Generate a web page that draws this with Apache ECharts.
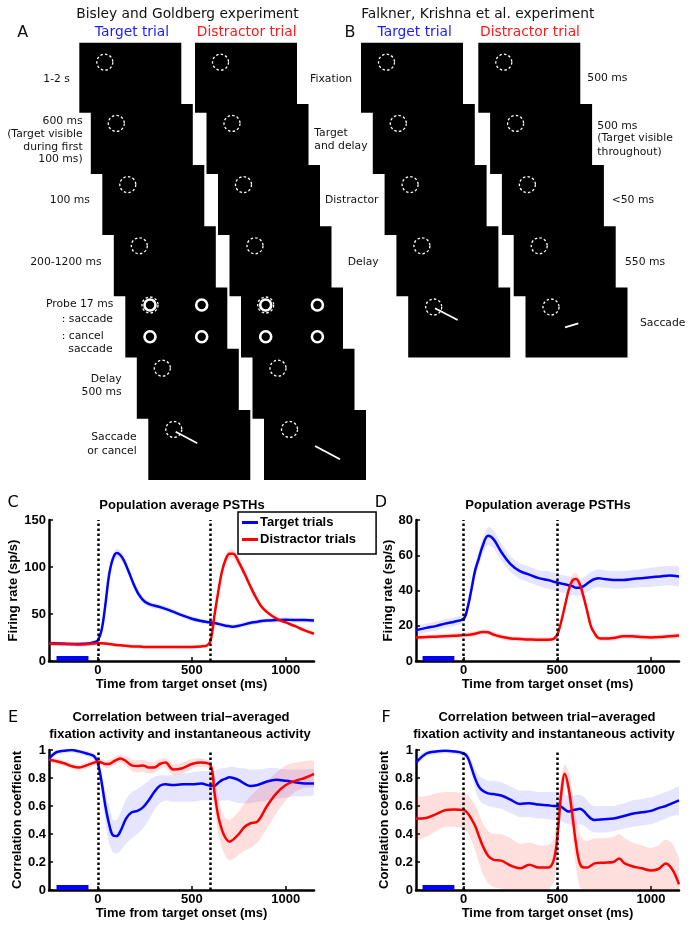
<!DOCTYPE html>
<html>
<head>
<meta charset="utf-8">
<title>Fixation activity figure</title>
<script src="https://cdn.jsdelivr.net/npm/echarts@6/dist/echarts.min.js"></script>
<style>
  html, body { margin: 0; padding: 0; background: #fff; }
  #fig { width: 691px; height: 929px; }
</style>
</head>
<body>
<div id="fig"></div>
<script>
// ---------- data ----------
// fixation window (blue bar) and task events (dotted lines), ms
const fixWin = [-220, -50];
const eventsBG = [0, 600];   // Bisley & Goldberg: target, distractor
const eventsFK = [0, 500];   // Falkner, Krishna et al.

// C: population PSTHs, Bisley & Goldberg (sp/s)
const tC = [-260,-200,-150,-100,-50, -20,0,20,40,60, 80,100,130,160,190, 220,250,280,320,360,
            400,450,500,550,580, 600,620,640,660,680, 700,720,750,780,810, 840,870,900,950,1000, 1050,1100,1150];
const blueC   = [18.5,18.5,18,18,18.5, 20,22,33,60,92, 109,115,110,97,82, 70,63,60,58,55.5,
                 52.5,48.5,45,42.5,41.5, 41,40.5,39.5,38.5,37.5, 37,36.5,37.5,39,40.5, 41.5,42.5,43,43.5,44, 43.5,43.5,43];
const blueCLo = [16.5,16.5,16,16,16.5, 18,20,30,56,87, 104,110,105,92,78, 66,59.5,57,55,52.5,
                 50,46,42.5,40,39, 38.5,38,37,36,35, 34.5,34,35,36.5,38, 39,40,40.5,41,41.5, 41,41,40.5];
const blueCHi = [20.5,20.5,20,20,20.5, 22,24,36,64,97, 114,120,115,102,86, 74,66.5,63,61,58.5,
                 55,51,47.5,45,44, 43.5,43,42,41,40, 39.5,39,40,41.5,43, 44,45,45.5,46,46.5, 46,46,45.5];
const redC    = [18.5,18,18,17.5,18, 18.5,19,19,18.5,18, 17.5,17,16.5,16,15.5, 15.5,15,15,15,15,
                 15,15,15,15.5,16.5, 22,48,73,95,108, 114,114,105,93,80, 68,58,52,45,41, 37,32.5,29];
const redCLo  = [16.5,16,16,15.5,16, 16.5,17,17,16.5,16, 15.5,15,14.5,14,13.5, 13.5,13,13,13,13,
                 13,13,13,13.5,14.5, 19,44,69,90,103, 109,109,100,89,76, 65,55.5,49.5,43,39, 35,30.5,27];
const redCHi  = [20.5,20,20,19.5,20, 20.5,21,21,20.5,20, 19.5,19,18.5,18,17.5, 17.5,17,17,17,17,
                 17,17,17,17.5,18.5, 25,52,77,100,113, 119,119,110,97,84, 71,60.5,54.5,47,43, 39,34.5,31];

// D: population PSTHs, Falkner, Krishna et al. (sp/s)
const tD = [-255,-200,-150,-100,-50, 0,20,40,60,80, 100,130,160,200,250, 300,350,400,450,480,
            500,520,540,560,580, 600,620,640,660,680, 700,720,750,800,850, 900,950,1000,1050,1100, 1150];
const blueD   = [17.5,18.8,19.8,21.2,22.3, 24,30,40,51,58, 65,71,69,62,55, 51,49,47,46,45,
                 44.5,44,43.5,43,42.5, 41.5,41.5,42.5,44,45.5, 46.5,47,46.5,46,46, 46.5,47,47.5,48,48.5, 48];
const blueDLo = [15,16.3,17.3,18.7,19.8, 21.5,27,36.5,47,54, 60.5,66,64,57,50.5, 46.5,44.5,42.5,41,40,
                 39.5,39,38.5,38,37.5, 37,37,37.5,39,40.5, 41.5,42,41.5,41,41, 41.5,42,42,42.5,43, 42.5];
const blueDHi = [20,21.3,22.3,23.7,24.8, 26.5,33,43.5,55,62, 69.5,76,74,67,59.5, 55.5,53.5,51.5,51,50,
                 49.5,49,48.5,48,47.5, 46.5,46.5,47.5,49,50.5, 51.5,52,51.5,51,51, 51.5,52,53,53.5,54, 53.5];
const redD    = [13.4,13.6,13.8,14,14.3, 14.7,14.8,15,15.5,16, 16.5,16.3,15,13.8,12.8, 12.5,12.2,12,12,12.5,
                 15,22,31,40,45.5, 46.5,43.5,36.5,28,19.5, 15.5,13,12.7,13,14, 14,13.6,13.4,13.6,14, 14.5];
const redDLo  = [12,12.2,12.4,12.6,12.9, 13.3,13.4,13.6,14.1,14.6, 15.1,14.9,13.6,12.4,11.4, 11.1,10.8,10.6,10.6,11.1,
                 13.5,20,28.5,37,42, 43,40,33.5,25,17.5, 13.8,11.6,11.3,11.6,12.6, 12.6,12.2,12,12.2,12.6, 13.1];
const redDHi  = [14.8,15,15.2,15.4,15.7, 16.1,16.2,16.4,16.9,17.4, 17.9,17.7,16.4,15.2,14.2, 13.9,13.6,13.4,13.4,13.9,
                 16.5,24,33.5,43,49, 50,47,39.5,31,21.5, 17.2,14.4,14.1,14.4,15.4, 15.4,15,14.8,15,15.4, 15.9];

// E: correlation with fixation activity, Bisley & Goldberg
const tE = [-260,-220,-180,-140,-100, -60,-20,0,20,40, 60,80,100,120,150, 180,210,240,270,300,
            330,360,400,450,500, 550,600,620,640,660, 680,700,720,750,780, 810,850,900,950,1000, 1050,1100,1150];
const blueE   = [0.94,0.985,0.995,1.0,0.99, 0.975,0.955,0.905,0.77,0.6, 0.47,0.39,0.385,0.42,0.51,
                 0.555,0.565,0.59,0.64,0.7, 0.745,0.755,0.75,0.755,0.755, 0.76,0.745,0.745,0.765,0.785,
                 0.795,0.805,0.8,0.785,0.76, 0.742,0.75,0.775,0.787,0.78, 0.77,0.76,0.76];
const blueELo = [0.92,0.965,0.975,0.98,0.97, 0.955,0.93,0.875,0.7,0.48, 0.33,0.27,0.26,0.28,0.33,
                 0.37,0.4,0.44,0.5,0.57, 0.62,0.64,0.63,0.63,0.63, 0.64,0.64,0.64,0.64,0.64,
                 0.64,0.64,0.63,0.62,0.62, 0.62,0.63,0.64,0.65,0.66, 0.67,0.67,0.68];
const blueEHi = [0.96,1.0,1.0,1.0,1.0, 0.995,0.975,0.93,0.83,0.7, 0.6,0.5,0.5,0.55,0.65,
                 0.7,0.72,0.75,0.78,0.81, 0.82,0.82,0.82,0.83,0.84, 0.85,0.85,0.85,0.86,0.87,
                 0.87,0.88,0.88,0.87,0.87, 0.86,0.86,0.87,0.87,0.86, 0.86,0.86,0.86];
const redE    = [0.93,0.92,0.905,0.885,0.875, 0.89,0.91,0.917,0.91,0.9, 0.9,0.915,0.93,0.94,0.92,
                 0.89,0.885,0.89,0.875,0.875, 0.9,0.91,0.86,0.87,0.9, 0.91,0.89,0.7,0.53,0.43,
                 0.37,0.345,0.36,0.4,0.45, 0.475,0.49,0.6,0.69,0.75, 0.78,0.8,0.83];
const redELo  = [0.91,0.9,0.885,0.865,0.855, 0.87,0.89,0.895,0.885,0.875, 0.87,0.885,0.9,0.91,0.885,
                 0.85,0.84,0.845,0.83,0.835, 0.865,0.875,0.82,0.83,0.865, 0.88,0.86,0.6,0.4,0.3,
                 0.24,0.21,0.22,0.25,0.28, 0.3,0.34,0.44,0.55,0.64, 0.7,0.73,0.74];
const redEHi  = [0.95,0.94,0.925,0.905,0.895, 0.91,0.93,0.94,0.935,0.925, 0.93,0.945,0.96,0.97,0.955,
                 0.93,0.925,0.93,0.915,0.915, 0.935,0.945,0.9,0.91,0.935, 0.94,0.92,0.82,0.68,0.56,
                 0.51,0.5,0.52,0.56,0.62, 0.67,0.72,0.78,0.84,0.89, 0.91,0.92,0.92];

// F: correlation with fixation activity, Falkner, Krishna et al.
const tF = [-255,-200,-150,-100,-50, 0,20,40,60,80, 100,130,160,200,250, 300,350,400,450,480,
            500,520,540,560,580, 600,620,640,660,680, 700,750,800,830,860, 900,950,1000,1040,1080, 1115,1150];
const blueF   = [0.91,0.975,0.99,0.995,0.99, 0.975,0.95,0.88,0.8,0.74, 0.71,0.69,0.685,0.675,0.645,
                 0.615,0.62,0.61,0.605,0.6, 0.6,0.595,0.575,0.56,0.57, 0.575,0.58,0.565,0.535,0.51,
                 0.5,0.505,0.51,0.52,0.53, 0.545,0.555,0.565,0.585,0.6, 0.62,0.64];
const blueFLo = [0.89,0.955,0.97,0.975,0.97, 0.955,0.92,0.83,0.72,0.65, 0.62,0.6,0.59,0.58,0.55,
                 0.52,0.52,0.51,0.505,0.5, 0.5,0.495,0.48,0.47,0.47, 0.47,0.47,0.46,0.44,0.42,
                 0.41,0.41,0.42,0.43,0.44, 0.45,0.46,0.47,0.49,0.51, 0.53,0.54];
const blueFHi = [0.95,0.995,1.0,1.0,1.0, 0.995,0.98,0.93,0.87,0.82, 0.8,0.78,0.78,0.77,0.74,
                 0.71,0.71,0.7,0.7,0.7, 0.7,0.695,0.68,0.67,0.67, 0.68,0.68,0.67,0.64,0.61,
                 0.6,0.6,0.6,0.61,0.62, 0.64,0.65,0.66,0.68,0.7, 0.72,0.74];
const redF    = [0.51,0.515,0.54,0.57,0.575, 0.572,0.55,0.51,0.46,0.39, 0.32,0.245,0.215,0.21,0.175,
                 0.155,0.18,0.16,0.16,0.21, 0.38,0.68,0.83,0.73,0.54, 0.33,0.19,0.16,0.16,0.175,
                 0.19,0.195,0.2,0.225,0.19, 0.17,0.155,0.14,0.15,0.19, 0.145,0.04];
const redFLo  = [0.36,0.38,0.42,0.45,0.45, 0.44,0.41,0.36,0.29,0.2, 0.12,0.05,0.02,0.01,0.0,
                 0.0,0.0,0.0,0.0,0.05, 0.2,0.55,0.76,0.64,0.4, 0.16,0.02,0.0,0.0,0.0,
                 0.0,0.0,0.0,0.0,0.0, 0.0,0.0,0.0,0.0,0.0, 0.0,0.0];
const redFHi  = [0.66,0.67,0.69,0.7,0.7, 0.69,0.68,0.65,0.61,0.55, 0.48,0.42,0.4,0.4,0.37,
                 0.33,0.34,0.32,0.32,0.36, 0.56,0.8,0.9,0.85,0.7, 0.52,0.4,0.36,0.35,0.36,
                 0.37,0.37,0.38,0.4,0.37, 0.34,0.32,0.3,0.32,0.36, 0.33,0.22];

const xTicks = [0, 500, 1000];
const seriesNames = ['Target trials', 'Distractor trials'];

// ---------- styles ----------
const BLUE = '#0000ff', RED = '#ff0000';
const BLUE_BAND = 'rgba(0,0,255,0.10)', RED_BAND = 'rgba(255,0,0,0.13)';
const AX_FONT = 'Liberation Sans';
const DIA_FONT = 'DejaVu Sans';

const panels = [
  { t: tC, b: blueC, bLo: blueCLo, bHi: blueCHi, r: redC, rLo: redCLo, rHi: redCHi, ev: eventsBG,
    xmin: -260, ymax: 150, yint: 50, yname: 'Firing rate (sp/s)', ygap: 24,
    grid: { left: 49, top: 520, width: 265, height: 141 } },
  { t: tD, b: blueD, bLo: blueDLo, bHi: blueDHi, r: redD, rLo: redDLo, rHi: redDHi, ev: eventsFK,
    xmin: -255, ymax: 80, yint: 20, yname: 'Firing rate (sp/s)', ygap: 20,
    grid: { left: 416, top: 520, width: 263, height: 141 } },
  { t: tE, b: blueE, bLo: blueELo, bHi: blueEHi, r: redE, rLo: redELo, rHi: redEHi, ev: eventsBG,
    xmin: -260, ymax: 1, yint: 0.2, yname: 'Correlation coefficient', ygap: 19,
    grid: { left: 49, top: 750, width: 265, height: 140 } },
  { t: tF, b: blueF, bLo: blueFLo, bHi: blueFHi, r: redF, rLo: redFLo, rHi: redFHi, ev: eventsFK,
    xmin: -255, ymax: 1, yint: 0.2, yname: 'Correlation coefficient', ygap: 21,
    grid: { left: 416, top: 750, width: 263, height: 140 } }
];

function band(gi, t, lo, hi, color) {
  return {
    type: 'custom', xAxisIndex: gi, yAxisIndex: gi, silent: true, z: 1, clip: true,
    data: [[t[0], lo[0]]],
    renderItem: function (params, api) {
      const pts = [];
      for (let i = 0; i < t.length; i++) pts.push(api.coord([t[i], hi[i]]));
      for (let i = t.length - 1; i >= 0; i--) pts.push(api.coord([t[i], lo[i]]));
      return { type: 'polygon', shape: { points: pts, smooth: 0.2 }, style: { fill: color } };
    }
  };
}

function curve(gi, name, t, v, color) {
  return {
    type: 'line', name: name, xAxisIndex: gi, yAxisIndex: gi,
    data: t.map((x, i) => [x, v[i]]),
    showSymbol: false, symbol: 'none', smooth: 0.35, z: 3,
    lineStyle: { color: color, width: 2.5 }, itemStyle: { color: color }
  };
}

const grids = [], xAxes = [], yAxes = [], series = [];
panels.forEach(function (p, gi) {
  grids.push(p.grid);
  xAxes.push({
    type: 'value', gridIndex: gi, min: p.xmin, max: 1150,
    name: 'Time from target onset (ms)', nameLocation: 'middle', nameGap: 15,
    nameTextStyle: { fontFamily: AX_FONT, fontWeight: 'bold', fontSize: 13, color: '#000' },
    axisLine: { onZero: false, lineStyle: { color: '#000', width: 2.5 } },
    axisTick: { inside: true, length: 4, lineStyle: { color: '#000', width: 1.5 }, customValues: xTicks },
    axisLabel: { customValues: xTicks, formatter: v => String(v),
                 fontFamily: AX_FONT, fontWeight: 'bold', fontSize: 13, color: '#000', margin: 3 },
    splitLine: { show: false }
  });
  yAxes.push({
    type: 'value', gridIndex: gi, min: 0, max: p.ymax, interval: p.yint,
    name: p.yname, nameLocation: 'middle', nameGap: p.ygap,
    nameTextStyle: { fontFamily: AX_FONT, fontWeight: 'bold', fontSize: 13, color: '#000' },
    axisLine: { show: true, onZero: false, lineStyle: { color: '#000', width: 2.5 } },
    axisTick: { show: true, inside: true, length: 4, lineStyle: { color: '#000', width: 1.5 } },
    axisLabel: { fontFamily: AX_FONT, fontWeight: 'bold', fontSize: 13, color: '#000', margin: 3 },
    splitLine: { show: false }
  });
  series.push(band(gi, p.t, p.bLo, p.bHi, BLUE_BAND));
  series.push(band(gi, p.t, p.rLo, p.rHi, RED_BAND));
  const bl = curve(gi, seriesNames[0], p.t, p.b, BLUE);
  const rl = curve(gi, seriesNames[1], p.t, p.r, RED);
  bl.markArea = {
    silent: true, itemStyle: { color: BLUE, opacity: 1 },
    data: [[{ xAxis: fixWin[0], yAxis: 0 }, { xAxis: fixWin[1], yAxis: p.ymax * 0.035 }]]
  };
  rl.markLine = {
    silent: true, symbol: ['none', 'none'], label: { show: false },
    lineStyle: { color: '#000', type: [2.5, 2.5], width: 2.5 },
    emphasis: { disabled: true },
    data: p.ev.map(v => ({ xAxis: v }))
  };
  series.push(bl, rl);
});

// ---------- task diagrams (panels A and B) ----------
const g = [];
function txt(s, x, y, align, font, color) {
  g.push({
    type: 'text', x: x, y: y, silent: true,
    style: { text: s, font: font, fill: color || '#111',
             align: align, textAlign: align, verticalAlign: 'middle', textVerticalAlign: 'middle' }
  });
}
function dashCircle(cx, cy) {
  g.push({ type: 'circle', silent: true, shape: { cx: cx, cy: cy, r: 8 },
           style: { fill: 'none', stroke: '#fff', lineWidth: 1.3, lineDash: [2.5, 2.2] } });
}
function ring(cx, cy) {
  g.push({ type: 'circle', silent: true, shape: { cx: cx, cy: cy, r: 5.5 },
           style: { fill: 'none', stroke: '#fff', lineWidth: 2.6 } });
}
function stroke(x1, y1, x2, y2) {
  g.push({ type: 'line', silent: true, shape: { x1: x1, y1: y1, x2: x2, y2: y2 },
           style: { stroke: '#fff', lineWidth: 1.8 } });
}
const RW = 102, RH = 70, Y0 = 42.7, DY = 61.2;
// kind per stage: 'c' = fixation circle, 'p' = probe screen, 's' = saccade screen
function column(x0, dx, kinds, sacc) {
  kinds.forEach(function (k, i) {
    const rx = x0 + dx * i, ry = Y0 + DY * i;
    g.push({ type: 'rect', silent: true, shape: { x: rx, y: ry, width: RW, height: RH }, style: { fill: '#000' } });
    if (k === 'p') {
      dashCircle(rx + 24.7, ry + 17.5);
      ring(rx + 24.7, ry + 17.5); ring(rx + 76.4, ry + 17.5);
      ring(rx + 24.7, ry + 49.2); ring(rx + 76.4, ry + 49.2);
    } else {
      dashCircle(rx + 25.5, ry + 19.5);
      if (k === 's') stroke(rx + sacc[0], ry + sacc[1], rx + sacc[2], ry + sacc[3]);
    }
  });
}
const stagesBG = ['c', 'c', 'c', 'c', 'p', 'c', 's'];
const stagesFK = ['c', 'c', 'c', 'c', 's'];
column(79.3, 11.5, stagesBG, [27.4, 21.8, 49, 33.4]);
column(195, 11.5, stagesBG, [51, 36.1, 76, 49.4]);
column(361, 11.8, stagesFK, [26.8, 20.8, 49.5, 32.5]);
column(478.3, 11.8, stagesFK, [39.5, 39.8, 52.8, 35.8]);

const F_T = '13.8px "' + DIA_FONT + '"';
const F_L = '10.8px "' + DIA_FONT + '"';
const F_P = '16px "' + DIA_FONT + '"';
txt('Bisley and Goldberg experiment', 187.5, 14, 'center', F_T);
txt('Falkner, Krishna et al. experiment', 477.8, 14, 'center', F_T);
txt('Target trial', 132, 32, 'center', F_T, '#1a1aff');
txt('Distractor trial', 246.7, 32, 'center', F_T, '#ff1a1a');
txt('Target trial', 414.7, 32, 'center', F_T, '#1a1aff');
txt('Distractor trial', 530, 32, 'center', F_T, '#ff1a1a');
txt('A', 22.7, 33, 'center', F_P);
txt('B', 350, 33, 'center', F_P);

// stage labels, Bisley & Goldberg (left of panel A)
txt('1-2 s', 70, 79, 'right', F_L);
txt('600 ms', 82.7, 121, 'right', F_L);
txt('(Target visible', 82.7, 134, 'right', F_L);
txt('during first', 82.7, 146.7, 'right', F_L);
txt('100 ms)', 82.7, 159.3, 'right', F_L);
txt('100 ms', 90, 200, 'right', F_L);
txt('200-1200 ms', 101.7, 262.3, 'right', F_L);
txt('Probe 17 ms', 113.3, 304, 'right', F_L);
txt(': saccade', 61.7, 319, 'left', F_L);
txt(': cancel', 61.7, 336, 'left', F_L);
txt('saccade', 68.3, 349, 'left', F_L);
txt('Delay', 121.7, 379.3, 'right', F_L);
txt('500 ms', 121.7, 392.3, 'right', F_L);
txt('Saccade', 136.7, 437.3, 'right', F_L);
txt('or cancel', 136.7, 450.7, 'right', F_L);
// stage names between A and B
txt('Fixation', 310, 79, 'left', F_L);
txt('Target', 314.3, 132.7, 'left', F_L);
txt('and delay', 314.3, 145.7, 'left', F_L);
txt('Distractor', 325, 200, 'left', F_L);
txt('Delay', 347.7, 261.7, 'left', F_L);
// stage timing, Falkner, Krishna et al. (right of panel B)
txt('500 ms', 587.3, 78.3, 'left', F_L);
txt('500 ms', 597.3, 125.7, 'left', F_L);
txt('(Target visible', 597.3, 138.3, 'left', F_L);
txt('throughout)', 597.3, 151.7, 'left', F_L);
txt('<50 ms', 611.7, 200, 'left', F_L);
txt('550 ms', 625, 262.3, 'left', F_L);
txt('Saccade', 640, 323.3, 'left', F_L);

// chart titles and panel letters
const F_H = 'bold 13px "' + AX_FONT + '"';
txt('Population average PSTHs', 182, 505, 'center', F_H, '#000');
txt('Population average PSTHs', 548, 505, 'center', F_H, '#000');
txt('Correlation between trial\u2212averaged', 181, 717, 'center', F_H, '#000');
txt('fixation activity and instantaneous activity', 180, 734, 'center', F_H, '#000');
txt('Correlation between trial\u2212averaged', 547, 717, 'center', F_H, '#000');
txt('fixation activity and instantaneous activity', 544, 734, 'center', F_H, '#000');
txt('C', 13, 503, 'center', F_P, '#000');
txt('D', 381, 503, 'center', F_P, '#000');
txt('E', 13, 718, 'center', F_P, '#000');
txt('F', 386, 718, 'center', F_P, '#000');

const chart = echarts.init(document.getElementById('fig'));
chart.setOption({
  animation: false,
  backgroundColor: '#fff',
  grid: grids,
  xAxis: xAxes,
  yAxis: yAxes,
  legend: {
    data: seriesNames, orient: 'vertical', left: 238, top: 512,
    icon: 'rect', itemWidth: 16, itemHeight: 3, itemGap: 4,
    padding: [4, 20, 8, 4], borderColor: '#000', borderWidth: 1.5, backgroundColor: '#fff',
    selectedMode: false, z: 10,
    textStyle: { fontFamily: AX_FONT, fontWeight: 'bold', fontSize: 13, color: '#000', padding: [0, 0, 0, -3] }
  },
  graphic: g,
  series: series
});
</script>
</body>
</html>
